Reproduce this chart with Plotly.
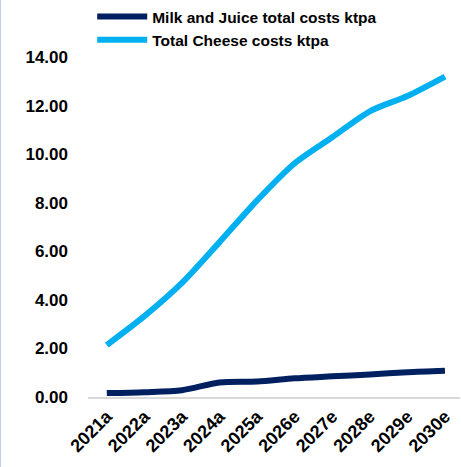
import plotly.graph_objects as go

years = ["2021a", "2022a", "2023a", "2024a", "2025a", "2026e", "2027e", "2028e", "2029e", "2030e"]
milk_juice = [0.16, 0.20, 0.28, 0.60, 0.64, 0.77, 0.85, 0.93, 1.02, 1.08]
cheese = [2.14, 3.33, 4.70, 6.38, 8.10, 9.63, 10.70, 11.77, 12.40, 13.20]
y_ticks = [0, 2, 4, 6, 8, 10, 12, 14]
y_tick_text = [f"{v:.2f}" for v in y_ticks]

NAVY = "#002060"
SKY = "#00B0F0"
FONT = "Liberation Sans"

fig = go.Figure()
fig.add_trace(go.Scatter(x=years, y=milk_juice, mode="lines", name="<b>Milk and Juice total costs ktpa</b>",
                         line=dict(color=NAVY, width=6, shape="spline", smoothing=0.8)))
fig.add_trace(go.Scatter(x=years, y=cheese, mode="lines", name="<b>Total Cheese costs ktpa</b>",
                         line=dict(color=SKY, width=6, shape="spline", smoothing=0.8)))

fig.update_layout(
    width=461, height=467,
    margin=dict(l=88, r=1, t=45, b=70, autoexpand=False),
    paper_bgcolor="white", plot_bgcolor="white",
    font=dict(family=FONT, color="#000000"),
    showlegend=True,
    legend=dict(xref="container", yref="container", x=0.2, y=1.008, xanchor="left", yanchor="top",
                font=dict(family=FONT, size=15.5, color="#000000"),
                bgcolor="rgba(0,0,0,0)", tracegroupgap=0, itemwidth=50),
    xaxis=dict(type="category", range=[-0.5, 9.4], showgrid=False, showline=True,
               linecolor="#D9D9D9", linewidth=2, ticks="", tickangle=-45,
               tickfont=dict(family=FONT, size=18, color="#000000", weight="bold")),
    yaxis=dict(range=[0, 14.5], showgrid=False, zeroline=False, showline=False,
               tickvals=y_ticks, ticktext=y_tick_text, ticks="", ticklabelstandoff=19,
               tickfont=dict(family=FONT, size=17, color="#000000", weight="bold")),
    shapes=[dict(type="line", xref="paper", yref="paper", x0=-88/372, x1=-88/372, y0=-70/352, y1=45/352 + 1,
                 line=dict(color="#C5D0E0", width=2))],
)

fig.write_html("out.html")
